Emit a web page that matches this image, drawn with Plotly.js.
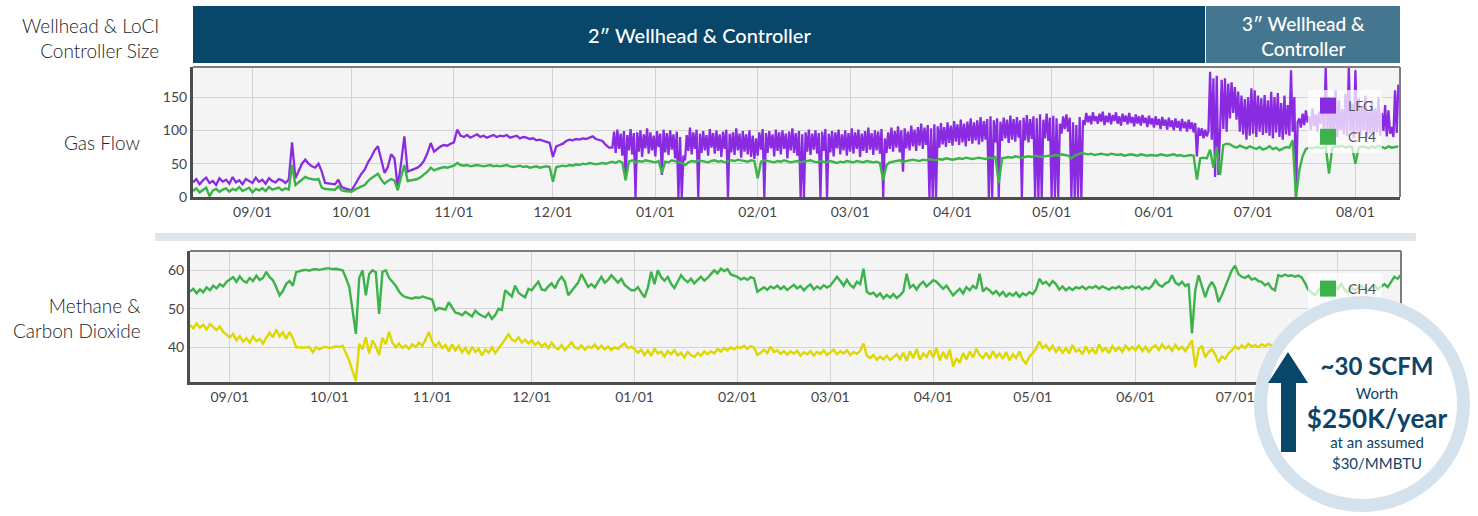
<!DOCTYPE html>
<html><head><meta charset="utf-8">
<script src="https://cdn.plot.ly/plotly-3.0.1.min.js"></script>
<style>
html,body{margin:0;padding:0;background:#fff;}
#wrap{position:relative;width:1478px;height:516px;overflow:hidden;}
#chart{position:absolute;left:0;top:0;width:1478px;height:516px;}
#callout{position:absolute;left:0;top:0;pointer-events:none;}
</style></head><body>
<div id="wrap"><div id="chart"></div>
<svg id="callout" width="1478" height="516" xmlns="http://www.w3.org/2000/svg">
  <circle cx="1362" cy="404" r="101.5" fill="#ffffff" stroke="#d4e2ed" stroke-width="13"/>
  <polygon points="1288,352 1268,383 1308,383" fill="#08466a"/>
  <rect x="1281" y="382" width="15" height="70" fill="#08466a"/>
  <g font-family="Lato, 'Open Sans', sans-serif" fill="#0d4468" text-anchor="middle" dominant-baseline="central">
    <text x="1377" y="365" font-size="24" font-weight="700">~30 SCFM</text>
    <text x="1377" y="393" font-size="15">Worth</text>
    <text x="1377" y="418" font-size="26" font-weight="700">$250K/year</text>
    <text x="1377" y="442" font-size="15">at an assumed</text>
    <text x="1377" y="463" font-size="15">$30/MMBTU</text>
  </g>
</svg>
</div>
<script>
// ---------- DATA ----------
// Gas flow panel (SCFM)
const lfgEarlyStart = '2022-08-14'; // daily values
const lfgEarly = [
 22,27,19,25,29,21,24,18,28,23,
 26,20,30,22,25,19,27,24,21,29,
 23,26,20,28,24,22,27,25,21,26,
 82,28,40,50,56,50,46,44,50,38,21,
 20,20,19,26,15,13,11,10,
 18,27,35,41,52,60,70,76,56,36, 45,64,58,15,50,91,38,40,42,44, 48,55,66,81,68,72,76,78,77,80,
 82,101,92,90,93,89,91,94,90,92, 89,91,93,90,92,91,93,89,90,92, 88,90,89,87,88,85,86,84,82,81,
 60,76,78,80,84,86,85,87,86,88, 87,89,91,87,86,84,78,74
];
const lfgLateStart = '2022-12-19'; // values every 12 hours
const lfgLate = [
 74,98, 66,101, 72,95, 62,99, 27,93, 70,102, 64,96, 0,97, 68,100, 60,94,
 73,103, 65,97, 70,92, 61,99, 75,95, 33,101, 67,96, 63,100, 71,94, 58,98,
 0,90, 0,62, 55,93, 69,104, 64,97, 72,101, 0,95, 66,99, 70,93, 62,102,
 74,96, 65,100, 69,94, 60,98, 72,101, 0,95, 67,97, 63,103, 70,95, 59,99,
 68,94, 64,100, 60,92, 57,88, 62,97, 71,102, 0,96, 66,99, 73,94, 61,101,
 69,97, 64,100, 72,95, 58,98, 70,103, 66,96, 62,99, 0,94, 0,97, 68,101,
 63,95, 71,100, 65,96, 0,98, 69,102, 0,95, 67,99, 61,97, 73,101, 64,94,
 70,100, 62,96, 68,103, 65,97, 72,101, 60,95, 69,99, 66,104, 71,96, 63,100,
 70,98, 65,102, 0,88, 66,97, 72,104, 68,99, 74,106, 67,100, 38,103, 73,98,
 70,107, 76,101, 69,105, 77,110, 72,104, 78,108, 0,103, 0,109, 0,106, 74,111,
 79,105, 75,112, 81,107, 77,114, 83,109, 78,116, 82,110, 76,113, 84,118, 80,112,
 85,115, 79,120, 83,114, 86,117, 0,121, 0,115, 82,118, 0,113, 84,119, 88,116,
 81,122, 86,117, 83,120, 89,115, 0,119, 85,123, 82,117, 87,121, 0,118, 0,124,
 0,116, 88,125, 84,119, 0,122, 0,118, 0,110, 95,121, 102,124, 98,119, 0,112,
 0,108, 0,120, 0,115, 108,126, 112,122, 109,127, 114,121, 110,125, 113,128, 108,122,
 112,126, 109,123, 114,127, 110,121, 107,125, 113,122, 109,126, 111,120, 106,124, 110,121,
 107,123, 111,119, 105,122, 109,118, 104,121, 108,117, 102,120, 107,116, 101,119, 105,115,
 100,118, 104,114, 99,117, 103,113, 98,116, 102,112, 97,111, 61,104, 92,103, 88,101,
 91,99, 188,86, 178,30, 182,33, 96,176, 102,178, 98,170, 118,172, 126,165, 116,158,
 98,152, 94,147, 86,150, 92,163, 95,160, 90,152, 98,148, 93,153, 96,145, 92,158,
 88,150, 97,156, 90,141, 86,152, 94,138, 92,190, 98,150, 0,112, 118,104, 125,108,
 130,112, 121,100, 133,106, 124,98, 128,110, 140,92, 195,100, 150,88, 138,96, 160,90,
 145,100, 132,94, 155,91, 195,98, 140,88, 190,95, 148,92, 136,100, 152,90, 128,96,
 145,89, 133,97, 150,92, 126,99, 138,91, 130,95, 105,90, 160,96, 168,165
];
const ch4FlowStart = '2022-08-14'; // daily values
const ch4Flow = [
 9,13,7,11,14,1,10,12,8,11,
 13,8,12,10,15,9,11,14,7,12,
 10,13,9,15,11,12,14,10,13,11,
 48,18,22,26,30,28,27,26,27,14,12,
 12,12,11,16,10,9,8,8,
 11,14,16,18,24,28,32,35,26,20, 24,27,25,10,30,48,24,25,26,27, 30,34,38,44,40,42,44,45,44,46,
 47,51,48,47,48,46,47,48,47,46, 47,48,46,47,46,47,48,46,45,46, 47,45,46,44,45,46,44,45,46,45,
 23,45,46,47,46,48,47,49,48,50, 49,51,50,49,50,51,50,52,
 53,51,54,52,25,53,55,52,54,53,55,54,53,
 52,54,36,53,52,55,54,53,51,48, 52,54,53,55,54,53,52,54,55,53, 54,52,53,55,54,56,55,54,53,55, 54,
 28,53,55,54,53,52,54,53,55,54, 52,53,54,52,53,54,55,53,52,54, 53,52,54,53,51,53,52,54,
 53,52,54,53,52,54,53,52,53,51, 25,48,52,53,54,55,53,54,55,56, 55,54,56,55,57,56,55,57,56,58, 57,
 56,57,58,57,59,58,57,58,59,58, 57,59,58,60,21,58,59,60,59,61, 60,59,60,61,60,62,61,60,61,62,
 61,63,62,64,63,62,58,62,64,66, 65,64,65,63,64,65,64,63,65,64, 63,64,62,63,64,63,62,64,63,62, 63,
 63,62,64,63,62,63,64,62,63,61, 62,63,62,26,58,59,58,71,44,75, 33,78,80,79,76,74,77,75,73,76,
 74,72,75,71,73,76,72,74,70,73, 75,74,85,0,40,61,72,74,73,75, 74,73,76,35,74,76,75,77,74,76, 75,
 50,74,76,75,73,76,74,77,75,73,76,74,75,76
];
// Methane & carbon dioxide panel (%)
const gasStart = '2022-08-20'; // daily values
const ch4Pct = [
 54.5,55.2,54.0,55.0,54.3,55.6,54.8,56.0,55.3,56.4,55.8,57.0,
 57.6,58.2,57.0,58.4,57.3,56.8,58.0,57.2,58.6,57.5, 58.0,59.6,58.2,57.4,55.6,53.5,54.6,56.5,57.2,56.0, 59.5,59.8,60.0,60.1,59.9,60.2,60.3,60.1,60.4,60.5,
 60.5,60.3,60.4,60.2,60.0,58.0,55.7,49.6,43.5,58.0, 60.0,53.5,59.0,60.0,59.5,48.7,59.6,60.0,58.0,57.0, 56.0,54.5,53.5,53.0,52.8,52.6,53.0,52.8,53.2,52.9, 52.6,
 52.4,49.6,50.2,50.0,49.8,51.7,50.5,49.0,48.8,48.3, 49.2,48.5,48.0,49.5,48.7,48.2,47.8,48.9,47.4,48.4, 50.0,49.7,54.8,54.0,53.2,56.0,54.2,53.5,53.0,55.2,
 54.8,56.0,57.0,55.0,54.8,55.8,56.6,55.3,57.2,58.3, 57.0,53.5,54.6,55.6,56.8,59.0,57.2,55.7,56.4,55.5, 57.0,58.3,56.8,57.5,58.7,57.6,56.8,57.8,56.2,55.5, 54.8,
 54.8,55.6,54.2,53.0,55.5,59.6,56.4,60.0,58.2,57.3, 58.3,56.5,55.4,57.2,58.7,57.6,56.9,57.8,56.6,57.5, 58.3,57.3,58.0,59.0,60.0,59.2,60.4,59.8,60.3,58.9, 58.5,
 58.3,57.6,58.0,57.5,58.2,57.9,54.4,55.0,55.6,54.9, 55.8,55.3,56.0,55.1,55.8,54.9,55.6,56.2,55.3,55.9, 54.8,55.7,56.3,55.0,55.8,55.2,56.1,55.5,
 56.0,57.0,58.3,57.2,56.0,57.5,56.2,55.5,57.0,56.4, 60.4,54.4,53.8,54.2,53.2,54.0,52.7,53.6,52.9,53.8, 52.8,53.5,54.5,59.1,55.5,56.2,55.0,56.3,57.0,55.8, 56.5,
 57.4,57.0,56.2,55.2,56.0,54.6,53.5,54.4,55.2,54.0, 55.6,54.8,56.0,55.2,59.1,54.5,55.4,54.8,53.9,54.6, 53.5,54.4,53.2,54.0,53.4,54.2,53.1,54.0,53.5,54.3,
 53.8,55.0,57.8,56.5,57.0,56.0,57.2,56.4,55.0,55.8, 54.8,55.5,54.9,55.6,55.3,55.8,55.1,55.7,55.4,55.9, 55.2,55.8,55.4,55.0,55.6,55.3,55.8,55.1,55.6,55.4, 55.9,
 55.3,55.8,55.0,55.6,55.2,56.0,57.4,56.2,55.7,56.6, 57.0,58.7,56.8,56.2,57.0,55.9,56.5,43.6,54.8,58.7, 56.0,53.0,55.6,57.0,55.4,51.8,53.5,55.6,57.8,60.0,
 61.2,59.0,58.3,58.0,58.6,57.6,57.9,57.2,57.0,56.1, 56.6,55.3,54.8,58.7,58.4,58.9,58.5,58.7,58.3,58.6, 58.2,56.8,55.0,54.2,53.5,54.8,55.6,56.4,55.5,54.6, 55.8,
 55.2,56.5,55.0,54.2,55.6,54.8,55.4,56.0,55.2,54.6, 55.5,56.2,55.0,55.8,56.4,55.6,57.0,58.3,57.8,58.8
];
const co2Pct = [
 45.8,44.9,46.2,45.1,45.9,44.6,46.0,45.2,44.5,45.4,44.0,43.3,
 42.6,43.5,41.8,42.9,41.5,42.4,41.2,42.8,41.6,42.2, 41.0,42.5,43.8,42.6,44.6,42.8,43.9,42.2,44.0,42.4, 40.0,40.0,39.9,40.0,40.1,38.7,40.0,39.5,40.0,40.1,
 39.8,40.0,40.2,40.1,40.4,38.5,36.5,33.8,31.3,40.9, 39.5,42.6,38.4,41.8,40.2,38.0,42.5,40.8,44.0,41.2, 40.0,41.0,39.8,40.5,39.6,40.8,40.1,41.2,40.4,42.0, 44.0,
 41.5,40.2,41.3,39.8,40.6,38.9,40.8,39.2,40.4,38.7, 39.9,38.2,40.1,38.8,39.6,37.9,39.4,38.6,40.0,38.5, 39.7,40.8,42.1,43.4,42.0,41.5,42.6,41.2,42.0,41.0,
 41.8,40.6,41.4,40.2,41.0,39.8,41.2,40.0,39.5,40.6, 39.3,40.3,41.3,40.0,39.6,40.5,39.4,40.2,39.8,40.7, 39.6,40.4,39.5,40.2,39.3,40.0,39.6,40.4,41.0,39.8, 40.2,
 39.5,38.6,39.4,38.0,39.2,37.8,39.6,38.4,38.9,37.6, 39.0,38.2,39.3,37.9,38.6,37.4,38.8,38.0,37.5,38.5, 37.8,38.9,38.2,39.0,38.4,39.5,38.9,39.8,39.2,40.0, 39.5,
 40.2,39.8,40.4,39.6,40.3,39.9,38.0,38.6,39.4,38.5, 40.2,38.8,39.2,38.3,39.0,38.1,38.9,38.4,39.1,37.8, 38.7,38.2,39.0,37.9,38.8,38.3,39.2,38.0,
 38.6,39.4,38.2,39.0,38.4,39.2,38.0,38.8,38.3,39.1, 41.0,37.8,37.2,38.0,36.8,37.6,36.9,37.8,36.7,37.5, 38.2,37.0,38.6,36.5,39.0,37.2,39.6,36.8,38.4,37.5, 39.2,
 37.4,39.8,36.6,38.8,37.0,39.4,35.0,37.2,36.0,38.5, 36.8,38.9,37.4,39.6,38.0,37.2,38.6,37.0,39.0,37.4, 38.4,37.0,38.8,36.6,38.2,37.2,38.9,36.8,35.8,37.6,
 38.5,39.6,41.5,39.8,40.6,39.2,40.4,38.8,40.0,38.6, 39.8,38.4,40.6,38.9,39.4,38.2,40.2,38.6,39.6,38.3, 40.8,39.0,39.8,38.5,40.3,39.1,40.0,38.8,40.4,39.3, 40.1,
 39.2,40.6,39.0,40.2,38.8,39.9,40.5,39.3,40.8,39.6, 40.3,39.1,40.6,39.5,40.1,39.0,40.4,41.8,34.8,39.5, 40.4,37.4,38.8,39.5,38.2,36.1,37.6,37.0,38.4,39.2,
 40.3,39.6,40.5,39.8,40.9,40.2,40.6,40.0,40.8,40.3, 40.9,40.4,41.0,40.6,41.3,40.8,41.5,41.0,41.6,41.2, 41.8,41.3,41.9,42.2,41.6,42.0,41.4,42.2,41.7,42.4, 41.9,
 42.0,41.6,42.3,41.8,42.5,41.9,42.2,41.5,42.4,41.7, 42.1,41.6,42.3,41.8,42.0,41.5,42.2,41.7,42.0,41.6
];
const flowRange = ['2022-08-14', '2023-08-14 12:00'];
const gasRange = ['2022-08-20', '2023-08-20'];
const flowTicks = [0, 50, 100, 150];
const gasTicks = [40, 50, 60];

// ---------- helpers ----------
function stamps(start, n, hours) {
  const t0 = Date.parse(start + 'T00:00:00Z');
  const out = [];
  for (let i = 0; i < n; i++) {
    out.push(new Date(t0 + i * hours * 3600000).toISOString().slice(0, 16).replace('T', ' '));
  }
  return out;
}
const lfgX = stamps(lfgEarlyStart, lfgEarly.length, 24).concat(stamps(lfgLateStart, lfgLate.length, 12));
const lfgY = lfgEarly.concat(lfgLate);
const ch4FlowX = stamps(ch4FlowStart, ch4Flow.length, 24);
const gasX = stamps(gasStart, ch4Pct.length, 24);

const PURPLE = '#8a2be2', GREEN = '#3cb34a', YELLOW = '#dcd800';
const W = 1478, H = 516;
const px = v => v / W, py = v => 1 - v / H;

const traces = [
  {x: lfgX, y: lfgY, type: 'scatter', mode: 'lines', name: 'LFG', line: {color: PURPLE, width: 2.3}, xaxis: 'x', yaxis: 'y', showlegend: false},
  {x: ch4FlowX, y: ch4Flow, type: 'scatter', mode: 'lines', name: 'CH4', line: {color: GREEN, width: 2.4}, xaxis: 'x', yaxis: 'y', showlegend: false},
  {x: gasX, y: co2Pct, type: 'scatter', mode: 'lines', name: 'CO2', line: {color: YELLOW, width: 2.4}, xaxis: 'x2', yaxis: 'y2', showlegend: false},
  {x: gasX, y: ch4Pct, type: 'scatter', mode: 'lines', name: 'CH4', line: {color: GREEN, width: 2.4}, xaxis: 'x2', yaxis: 'y2', showlegend: false},
  // legend keys (square swatches)
  {x: [null], y: [null], type: 'scatter', mode: 'markers', name: 'LFG', marker: {symbol: 'square', size: 16, color: PURPLE}, xaxis: 'x', yaxis: 'y', legend: 'legend', legendgroup: 'a'},
  {x: [null], y: [null], type: 'scatter', mode: 'markers', name: 'CH4', marker: {symbol: 'square', size: 16, color: GREEN}, xaxis: 'x', yaxis: 'y', legend: 'legend', legendgroup: 'b'},
  {x: [null], y: [null], type: 'scatter', mode: 'markers', name: 'CH4', marker: {symbol: 'square', size: 16, color: GREEN}, xaxis: 'x2', yaxis: 'y2', legend: 'legend2', legendgroup: 'c'},
  {x: [null], y: [null], type: 'scatter', mode: 'markers', name: 'CO2', marker: {symbol: 'square', size: 16, color: YELLOW}, xaxis: 'x2', yaxis: 'y2', legend: 'legend2', legendgroup: 'd'}
];

const tickFont = {family: 'Lato, sans-serif', size: 14, color: '#444'};
const xCommon = {type: 'date', tickformat: '%m/%d', dtick: 'M1', tick0: '2022-09-01', showgrid: true, gridcolor: '#d3d3d3', gridwidth: 1,
  showline: true, linecolor: '#4d4d4d', linewidth: 3, ticks: '', tickfont: tickFont, fixedrange: true};
const yCommon = {showgrid: true, gridcolor: '#d3d3d3', gridwidth: 1, showline: true, linecolor: '#4d4d4d', linewidth: 3,
  zeroline: false, ticks: '', tickfont: tickFont, fixedrange: true};

const frame = (xd, yd) => [
  {type: 'line', xref: xd, yref: yd, x0: 0, x1: 1, y0: 1, y1: 1, line: {color: '#7d7d7d', width: 2}},
  {type: 'line', xref: xd, yref: yd, x0: 1, x1: 1, y0: 0, y1: 1, line: {color: '#7d7d7d', width: 2}}
];

const labelFont = {family: 'Lato, sans-serif', size: 19, color: '#222', weight: 300};
const headFont = {family: 'Lato, sans-serif', size: 20, color: '#ffffff', weight: 500};
const ann = (text, x, y, xanchor, font) => ({text: text, xref: 'paper', yref: 'paper', x: x, y: y,
  xanchor: xanchor, yanchor: 'middle', align: xanchor === 'right' ? 'right' : 'center', showarrow: false, font: font});

const layout = {
  width: W, height: H,
  margin: {l: 0, r: 0, t: 0, b: 0},
  paper_bgcolor: '#ffffff', plot_bgcolor: '#f4f4f4',
  font: {family: 'Lato, sans-serif', color: '#444'},
  hovermode: false,
  xaxis: Object.assign({}, xCommon, {domain: [px(193), px(1400)], anchor: 'y', range: flowRange}),
  yaxis: Object.assign({}, yCommon, {domain: [py(197), py(67)], anchor: 'x', range: [0, 195], tickvals: flowTicks}),
  xaxis2: Object.assign({}, xCommon, {domain: [px(190), px(1401)], anchor: 'y2', range: gasRange}),
  yaxis2: Object.assign({}, yCommon, {domain: [py(382), py(251)], anchor: 'x2', range: [31, 65], tickvals: gasTicks}),
  legend: {x: px(1308), y: py(90), xanchor: 'left', yanchor: 'top', bgcolor: 'rgba(255,255,255,0.72)', borderwidth: 0,
    font: {family: 'Lato, sans-serif', size: 14, color: '#555'}, tracegroupgap: 10, itemclick: false, itemdoubleclick: false},
  legend2: {x: px(1308), y: py(273), xanchor: 'left', yanchor: 'top', bgcolor: 'rgba(255,255,255,0.72)', borderwidth: 0,
    font: {family: 'Lato, sans-serif', size: 14, color: '#555'}, tracegroupgap: 12, itemclick: false, itemdoubleclick: false},
  shapes: [
    {type: 'rect', xref: 'paper', yref: 'paper', x0: px(193), x1: px(1205), y0: py(63), y1: py(6), fillcolor: '#08466a', line: {width: 0}, layer: 'below'},
    {type: 'rect', xref: 'paper', yref: 'paper', x0: px(1206), x1: px(1400), y0: py(63), y1: py(6), fillcolor: '#45768f', line: {width: 0}, layer: 'below'},
    {type: 'rect', xref: 'paper', yref: 'paper', x0: px(155), x1: px(1416), y0: py(241), y1: py(233), fillcolor: '#dfe5ea', line: {width: 0}, layer: 'below'}
  ].concat(frame('x domain', 'y domain'), frame('x2 domain', 'y2 domain')),
  annotations: [
    ann('2″ Wellhead &amp; Controller', px(699), py(35), 'center', headFont),
    ann('3″ Wellhead &amp;<br>Controller', px(1303), py(36), 'center', Object.assign({}, headFont, {size: 19})),
    ann('Wellhead &amp; LoCI<br>Controller Size', px(161), py(38), 'right', labelFont),
    ann('Gas Flow', px(143), py(142), 'right', labelFont),
    ann('Methane &amp;<br>Carbon Dioxide', px(143), py(318), 'right', labelFont)
  ]
};

Plotly.newPlot('chart', traces, layout, {displayModeBar: false, staticPlot: true});
</script>
</body></html>
